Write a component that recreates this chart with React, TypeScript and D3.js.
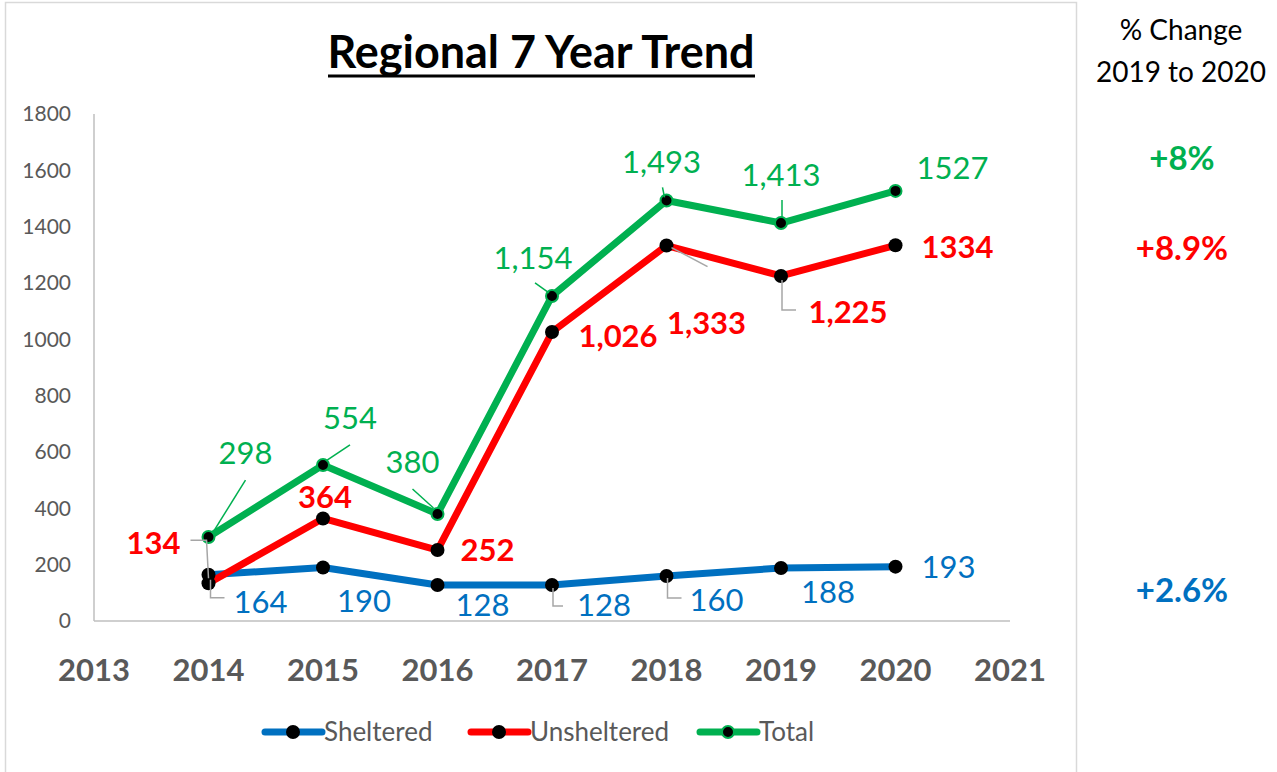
import React from "react";
import * as d3 from "d3";

const years = [2014, 2015, 2016, 2017, 2018, 2019, 2020];
const xTicks = [2013, 2014, 2015, 2016, 2017, 2018, 2019, 2020, 2021];
const yTicks = [0, 200, 400, 600, 800, 1000, 1200, 1400, 1600, 1800];
const sheltered = [164, 190, 128, 128, 160, 188, 193];
const unsheltered = [134, 364, 252, 1026, 1333, 1225, 1334];
const total = [298, 554, 380, 1154, 1493, 1413, 1527];
const shelteredLabels = ["164", "190", "128", "128", "160", "188", "193"];
const unshelteredLabels = ["134", "364", "252", "1,026", "1,333", "1,225", "1334"];
const totalLabels = ["298", "554", "380", "1,154", "1,493", "1,413", "1527"];
const pctChange = ["+8%", "+8.9%", "+2.6%"];

// layout: label offsets relative to points and leader polylines (relative)
const totalOff = [[37, -84], [27, -47], [-25, -52], [-19, -38], [-5, -38], [0, -48], [57, -23]];
const unshOff = [[-55, -40], [2, -21], [50, 0], [66, 4], [40, 78], [67, 36], [62, 2]];
const shOff = [[52, 27], [41, 34], [45, 20], [52, 20], [50, 24], [47, 24], [53, 1]];
const totalLead: (number[][] | null)[] = [
  [[37, -57], [4, -4]],
  [[27, -20], [3, -4]],
  [[-25, -25], [-4, -6]],
  [[-17, -13], [-3, -3]],
  [[-4, -13], [-2, -3]],
  [[1, -23], [1, -6]],
  null,
];
const unshLead: (number[][] | null)[] = [
  [[-18, -43], [-2, -43], [0, -5]],
  null, null, null,
  [[5, 2], [41, 21]],
  [[1, 4], [1, 34], [15, 34]],
  null,
];
const shLead: (number[][] | null)[] = [
  [[2, 5], [2, 23], [16, 23]],
  null, null,
  [[1, 3], [1, 21], [11, 21]],
  [[1, 2], [1, 22], [15, 22]],
  null, null,
];

const FONT = "Lato, 'Open Sans', sans-serif";
const BLUE = "#0070C0";
const RED = "#FF0000";
const GREEN = "#00B050";
const GRAY = "#595959";

export default function App() {
  const x = d3.scaleLinear().domain([2013, 2021]).range([94, 1010]);
  const y = d3.scaleLinear().domain([0, 1800]).range([621, 114]);
  const line = d3.line<number>().x((_, i) => x(years[i])).y((d) => y(d));

  const series = [
    { name: "Sheltered", vals: sheltered, labels: shelteredLabels, color: BLUE, off: shOff, lead: shLead, bold: false, leadColor: "#a6a6a6", ring: false },
    { name: "Unsheltered", vals: unsheltered, labels: unshelteredLabels, color: RED, off: unshOff, lead: unshLead, bold: true, leadColor: "#a6a6a6", ring: false },
    { name: "Total", vals: total, labels: totalLabels, color: GREEN, off: totalOff, lead: totalLead, bold: false, leadColor: GREEN, ring: true },
  ];

  const legendX = [265, 471, 700];
  const pctY = [158, 248, 590];
  const pctColors = [GREEN, RED, BLUE];

  return (
    <svg width={1277} height={772} style={{ position: "absolute", left: 0, top: 0, background: "#fff" }} fontFamily={FONT}>
      <rect x={0} y={0} width={1277} height={772} fill="#fff" />
      <rect x={5.5} y={2.5} width={1071} height={780} fill="none" stroke="#d9d9d9" strokeWidth={1.5} />
      {/* title */}
      <text x={541} y={68} textAnchor="middle" fontSize={45} fontWeight={700} fill="#000" textLength={427} lengthAdjust="spacingAndGlyphs">Regional 7 Year Trend</text>
      <line x1={328} x2={755} y1={76} y2={76} stroke="#000" strokeWidth={3} />
      {/* axes */}
      <line x1={94} x2={94} y1={114} y2={621} stroke="#bfbfbf" strokeWidth={1.5} />
      <line x1={94} x2={1010} y1={621} y2={621} stroke="#bfbfbf" strokeWidth={1.5} />
      {yTicks.map((t) => (
        <text key={t} x={71} y={y(t)} dy="0.35em" textAnchor="end" fontSize={21} fill={GRAY}>{t}</text>
      ))}
      {xTicks.map((t) => (
        <text key={t} x={x(t)} y={670} dy="0.35em" textAnchor="middle" fontSize={31} fontWeight={700} fill={GRAY}>{t}</text>
      ))}
      {/* lines */}
      {series.map((s) => (
        <path key={s.name} d={line(s.vals) || ""} fill="none" stroke={s.color} strokeWidth={7} strokeLinejoin="round" />
      ))}
      {series.map((s) =>
        s.vals.map((v, i) => (
          <circle key={s.name + i} cx={x(years[i])} cy={y(v)} r={s.ring ? 6 : 7} fill="#000" stroke={s.ring ? GREEN : "none"} strokeWidth={s.ring ? 2 : 0} />
        ))
      )}
      {/* leaders */}
      {series.map((s) =>
        s.lead.map((l, i) =>
          l ? (
            <polyline key={"l" + s.name + i} points={l.map((p) => `${x(years[i]) + p[0]},${y(s.vals[i]) + p[1]}`).join(" ")} fill="none" stroke={s.leadColor} strokeWidth={1.5} />
          ) : null
        )
      )}
      {/* labels */}
      {series.map((s) =>
        s.labels.map((lab, i) => (
          <text key={"t" + s.name + i} x={x(years[i]) + s.off[i][0]} y={y(s.vals[i]) + s.off[i][1]} dy="0.35em" textAnchor="middle" fontSize={31} fontWeight={s.bold ? 700 : 400} fill={s.color}>{lab}</text>
        ))
      )}
      {/* legend */}
      {series.map((s, i) => (
        <g key={"lg" + s.name}>
          <line x1={legendX[i]} x2={legendX[i] + 57} y1={732} y2={732} stroke={s.color} strokeWidth={7} strokeLinecap="round" />
          <circle cx={legendX[i] + 28} cy={732} r={s.ring ? 6 : 7} fill="#000" stroke={s.ring ? GREEN : "none"} strokeWidth={s.ring ? 2 : 0} />
          <text x={legendX[i] + 59} y={732} dy="0.35em" fontSize={26} fill={GRAY}>{s.name}</text>
        </g>
      ))}
      {/* right panel */}
      <text x={1181} y={30} dy="0.35em" textAnchor="middle" fontSize={28} fill="#000">% Change</text>
      <text x={1181} y={72} dy="0.35em" textAnchor="middle" fontSize={28} fill="#000">2019 to 2020</text>
      {pctChange.map((p, i) => (
        <text key={p} x={1182} y={pctY[i]} dy="0.35em" textAnchor="middle" fontSize={33} fontWeight={700} fill={pctColors[i]}>{p}</text>
      ))}
    </svg>
  );
}
